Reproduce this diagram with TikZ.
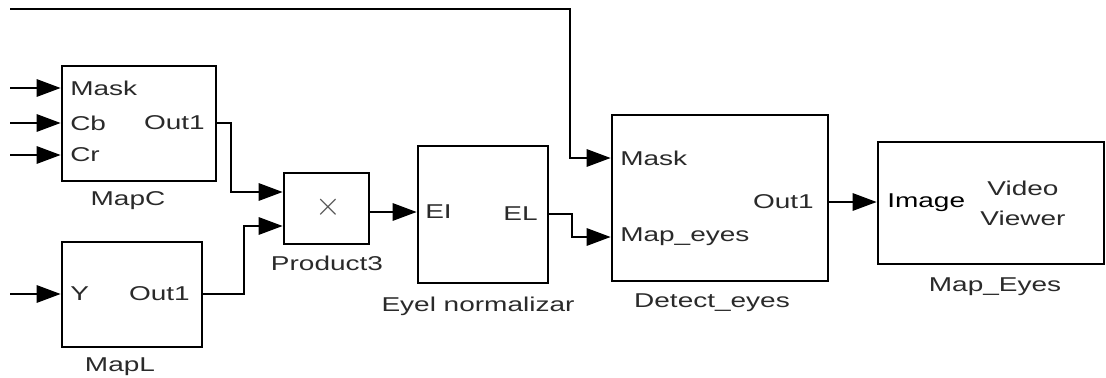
\documentclass[tikz,border=0pt]{standalone}
\usepackage{fontspec}
\usepackage{graphicx}
\usetikzlibrary{arrows.meta,positioning,fit,calc}
\setmainfont{Liberation Sans}
\definecolor{sgray}{HTML}{2A2A2A}
\definecolor{xgray}{HTML}{555555}
\newcommand{\wtxt}[1]{\scalebox{1.4}[1]{#1}}

\begin{document}
\begin{tikzpicture}[x=0.75pt,y=-0.75pt,font=\fontsize{15}{17}\selectfont,
    >={Triangle[length=18pt,width=13pt]},
    blk/.style={draw,line width=2pt,inner sep=0pt,fit={#1}},
    plab/.style={inner sep=0pt,text=sgray},
    bname/.style={inner sep=0pt,text=sgray},
    wire/.style={line width=1.5pt}]
  \useasboundingbox (0,0) rectangle (1106,378);
  % ---- blocks ----
  \node[blk={(62,66) (216,181)}] (mapc) {};
  \node[blk={(62,242) (202,347)}] (mapl) {};
  \node[blk={(284,173) (369,244)}] (prod) {};
  \node[blk={(418,146) (548,283)}] (norm) {};
  \node[blk={(612,115) (828,281)}] (det) {};
  \node[blk={(878,142) (1104,264)}] (view) {};
  % ---- port labels ----
  \node[plab,anchor=west] (mc-mask) at (70,88) {\wtxt{Mask}};
  \node[plab,anchor=west] (mc-cb) at (70,123) {\wtxt{Cb}};
  \node[plab,anchor=west] (mc-cr) at (70,155) {\wtxt{Cr}};
  \node[plab,anchor=east] (mc-out) at (205,123) {\wtxt{Out1}};
  \node[plab,anchor=west] (ml-y) at (70,294) {\wtxt{Y}};
  \node[plab,anchor=east] (ml-out) at (190,294) {\wtxt{Out1}};
  \node[plab,text=xgray,font=\fontsize{34}{36}\selectfont] (p-op) at (328,207) {$\times$};
  \node[plab,anchor=west] (n-in) at (425,212) {\wtxt{EI}};
  \node[plab,anchor=east] (n-out) at (538,214) {\wtxt{EL}};
  \node[plab,anchor=west] (d-mask) at (620,158) {\wtxt{Mask}};
  \node[plab,anchor=west] (d-map) at (620,237) {\wtxt{Map\_eyes}};
  \node[plab,anchor=east] (d-out) at (814,202) {\wtxt{Out1}};
  \node[plab,anchor=west,text=black] (v-img) at (887,203) {\wtxt{Image}};
  \node[plab,align=center,font=\fontsize{15}{22.5}\selectfont] (v-txt) at (1023,203)
        {\wtxt{Video}\\\wtxt{Viewer}};
  % ---- block names ----
  \node[bname] at (128,201) {\wtxt{MapC}};
  \node[bname] at (120,367) {\wtxt{MapL}};
  \node[bname] at (327,263) {\wtxt{Product3}};
  \node[bname] at (478,306) {\wtxt{Eyel normalizar}};
  \node[bname] at (712,303) {\wtxt{Detect\_eyes}};
  \node[bname] at (995,287) {\wtxt{Map\_Eyes}};
  % ---- free ends and port points ----
  \coordinate (i1) at (10,88);
  \coordinate (i2) at (10,123);
  \coordinate (i3) at (10,155);
  \coordinate (i4) at (10,294);
  \coordinate (fb) at (10,9);
  \coordinate (p-a) at ($(prod.west)+(0,-16.5)$);
  \coordinate (p-b) at ($(prod.west)+(0,17.5)$);
  \coordinate (d-a) at (det.west |- d-mask);
  \coordinate (d-b) at (det.west |- d-map);
  % ---- wires ----
  \draw[wire,->] (i1) -- (mapc.west |- i1);
  \draw[wire,->] (i2) -- (mapc.west |- i2);
  \draw[wire,->] (i3) -- (mapc.west |- i3);
  \draw[wire,->] (i4) -- (mapl.west |- i4);
  \draw[wire,->] (mapc.east |- mc-out) -- ++(14,0) |- (p-a);
  \draw[wire,->] (mapl.east |- ml-out) -- ++(41,0) |- (p-b);
  \draw[wire,->] (prod.east |- n-in) -- (norm.west |- n-in);
  \draw[wire,->] (norm.east |- n-out) -- ++(23,0) |- (d-b);
  \draw[wire,->] (fb) -| ($(d-a)+(-41,0)$) -- (d-a);
  \draw[wire,->] (det.east |- d-out) -- (view.west |- d-out);
\end{tikzpicture}
\end{document}
